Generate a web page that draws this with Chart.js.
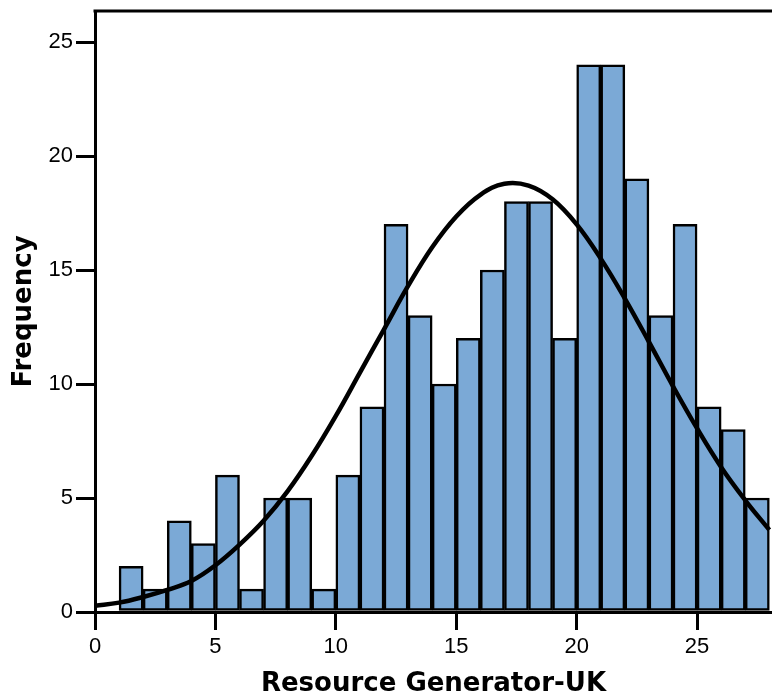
<!DOCTYPE html>
<html>
<head>
<meta charset="utf-8">
<script src="https://cdn.jsdelivr.net/npm/chart.js@4/dist/chart.umd.min.js"></script>
<style>
  html, body { margin: 0; padding: 0; background: #ffffff; }
  #wrap { width: 772px; height: 697px; }
</style>
</head>
<body>
<div id="wrap"><canvas id="c" width="772" height="697"></canvas></div>
<script>
// Histogram bins (lower edge of each bin, width 1)
const binStarts = [1,2,3,4,5,6,7,8,9,10,11,12,13,14,15,16,17,18,19,20,21,22,23,24,25,26,27];
const frequencies = [2,1,4,3,6,1,5,5,1,6,9,17,13,10,12,15,18,18,12,24,24,19,13,17,9,8,5];

// Normal curve
const curveX = [0,1,2,3,4,5,6,7,8,9,10,11,12,13,14,15,16,17,18,19,20,21,22,23,24,25,26,27,28];
const curveY = [0.27,0.41,0.66,0.97,1.36,2.05,2.95,4.0,5.3,6.85,8.6,10.5,12.4,14.3,16.0,17.35,18.3,18.78,18.7,18.1,17.0,15.5,13.75,11.85,9.9,8.05,6.35,4.9,3.6];

// Axis ticks
const xTicks = [0,5,10,15,20,25];
const yTicks = [0,5,10,15,20,25];

const barData = binStarts.map((s, i) => ({ x: s + 0.5, y: frequencies[i] }));
const lineData = curveX.map((x, i) => ({ x: x, y: curveY[i] }));

const frameTop = {
  id: 'frameTop',
  afterDraw(chart) {
    const { ctx, chartArea } = chart;
    ctx.save();
    ctx.strokeStyle = '#000';
    ctx.lineWidth = 3;
    ctx.beginPath();
    ctx.moveTo(chartArea.left - 1.5, chartArea.top);
    ctx.lineTo(chartArea.right, chartArea.top);
    ctx.stroke();
    ctx.restore();
  }
};

new Chart(document.getElementById('c'), {
  type: 'bar',
  data: {
    datasets: [
      {
        type: 'line',
        label: 'Normal',
        data: lineData,
        borderColor: '#000000',
        borderWidth: 4.5,
        pointRadius: 0,
        fill: false,
        tension: 0.4,
        order: 0
      },
      {
        type: 'bar',
        label: 'Frequency',
        data: barData,
        backgroundColor: '#7BA9D6',
        borderColor: '#000000',
        borderWidth: 2.5,
        borderSkipped: false,
        barPercentage: 1.0,
        categoryPercentage: 1.0,
        order: 1
      }
    ]
  },
  options: {
    responsive: false,
    animation: false,
    devicePixelRatio: 1,
    layout: { padding: { top: 11, left: 0, right: 0, bottom: 0 } },
    plugins: { legend: { display: false }, tooltip: { enabled: false } },
    scales: {
      x: {
        type: 'linear',
        offset: false,
        min: 0,
        max: 28.11,
        afterBuildTicks: (axis) => { axis.ticks = xTicks.map(v => ({ value: v })); },
        afterFit: (axis) => { axis.height = 85; axis.paddingLeft = 0; axis.paddingRight = 0; },
        border: { display: true, color: '#000', width: 3 },
        grid: { display: true, offset: false, drawOnChartArea: false, drawTicks: true, tickLength: 18, lineWidth: 3, tickWidth: 3, tickColor: '#000', color: '#000' },
        ticks: {
          padding: 4,
          maxRotation: 0,
          color: '#000',
          font: { family: '"Liberation Sans", Arial, sans-serif', size: 22 }
        },
        title: {
          display: true,
          text: 'Resource Generator-UK',
          color: '#000',
          padding: 0,
          font: { family: '"DejaVu Sans", sans-serif', size: 26, weight: 'bold', lineHeight: 1 }
        }
      },
      y: {
        type: 'linear',
        min: 0,
        max: 26.36,
        afterBuildTicks: (axis) => { axis.ticks = yTicks.map(v => ({ value: v })); },
        afterFit: (axis) => { axis.width = 95; axis.paddingTop = 0; axis.paddingBottom = 0; },
        border: { display: true, color: '#000', width: 3 },
        grid: { display: true, drawOnChartArea: false, drawTicks: true, tickLength: 19, lineWidth: 3, tickWidth: 3, tickColor: '#000', color: '#000' },
        ticks: {
          padding: 3,
          color: '#000',
          font: { family: '"Liberation Sans", Arial, sans-serif', size: 22 }
        },
        title: {
          display: true,
          text: 'Frequency',
          color: '#000',
          padding: { top: 11, bottom: 0 },
          font: { family: '"DejaVu Sans", sans-serif', size: 26, weight: 'bold', lineHeight: 1 }
        }
      }
    }
  },
  plugins: [frameTop]
});
</script>
</body>
</html>
